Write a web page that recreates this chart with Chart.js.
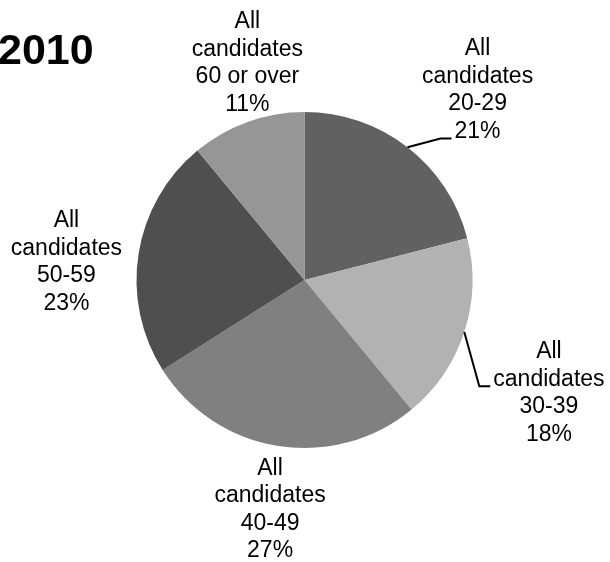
<!DOCTYPE html>
<html>
<head>
<meta charset="utf-8">
<script src="https://cdn.jsdelivr.net/npm/chart.js@4.4.0/dist/chart.umd.min.js"></script>
<style>
  html, body { margin: 0; padding: 0; background: #fff; }
  #wrap { width: 610px; height: 562px; }
</style>
</head>
<body>
<div id="wrap"><canvas id="pieChart" width="610" height="562"></canvas></div>
<script>
// data
var chartTitle = '2010';
var categories = ['All candidates 20-29', 'All candidates 30-39', 'All candidates 40-49', 'All candidates 50-59', 'All candidates 60 or over'];
var labelLines = [
    ['All', 'candidates', '20-29'],
    ['All', 'candidates', '30-39'],
    ['All', 'candidates', '40-49'],
    ['All', 'candidates', '50-59'],
    ['All', 'candidates', '60 or over']
];
var shares = [21, 18, 27, 23, 11];
var sliceColors = ['#616161', '#b2b2b2', '#808080', '#4f4f4f', '#969696'];

// label placement, in units of the pie radius from its centre
var labelPos = [
    { dx: 1.03, dy: -1.13, leader: 3 },
    { dx: 1.455, dy: 0.673, leader: 1 },
    { dx: -0.205, dy: 1.366 },
    { dx: -1.417, dy: -0.105 },
    { dx: -0.34, dy: -1.292 }
];

var FONT = '"Liberation Sans", Arial, sans-serif';
var LINE_H = 27.5;

var labelPlugin = {
    id: 'sliceLabels',
    afterDraw: function(chart) {
        var ctx = chart.ctx;
        var meta = chart.getDatasetMeta(0);
        ctx.save();

        // title
        ctx.fillStyle = '#000';
        ctx.font = 'bold 43px ' + FONT;
        ctx.textAlign = 'left';
        ctx.textBaseline = 'middle';
        ctx.fillText(chartTitle, -2, 52);

        ctx.font = '23px ' + FONT;
        ctx.textAlign = 'center';
        meta.data.forEach(function(arc, i) {
            var p = arc.getProps(['x', 'y', 'startAngle', 'endAngle', 'outerRadius'], true);
            var r = p.outerRadius;
            var lines = labelLines[i].concat([shares[i] + '%']);
            var cx = p.x + labelPos[i].dx * r;
            var cy = p.y + labelPos[i].dy * r;
            var top = cy - (lines.length - 1) * LINE_H / 2;
            lines.forEach(function(t, k) {
                ctx.fillText(t, cx, top + k * LINE_H);
            });

            var k = labelPos[i].leader;
            if (k !== undefined) {
                var mid = (p.startAngle + p.endAngle) / 2;
                var sx = p.x + Math.cos(mid) * r;
                var sy = p.y + Math.sin(mid) * r;
                var w = ctx.measureText(lines[k]).width;
                var ex = cx - w / 2 - 3;
                var ey = top + k * LINE_H + 7;
                ctx.beginPath();
                ctx.strokeStyle = '#000';
                ctx.lineWidth = 2;
                ctx.moveTo(sx, sy);
                ctx.lineTo(ex - 11, ey);
                ctx.lineTo(ex, ey);
                ctx.stroke();
            }
        });
        ctx.restore();
    }
};

var ctx = document.getElementById('pieChart').getContext('2d');
var chart = new Chart(ctx, {
    type: 'pie',
    data: {
        labels: categories,
        datasets: [{
            data: shares,
            backgroundColor: sliceColors,
            borderWidth: 0
        }]
    },
    options: {
        responsive: false,
        animation: false,
        layout: { padding: { left: 136, right: 137, top: 112, bottom: 114 } },
        plugins: {
            legend: { display: false },
            tooltip: { enabled: false },
            title: { display: false }
        }
    },
    plugins: [labelPlugin]
});
</script>
</body>
</html>
